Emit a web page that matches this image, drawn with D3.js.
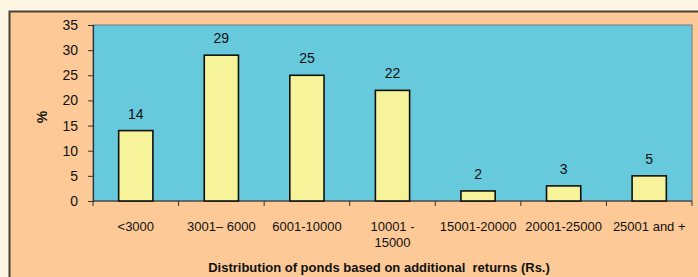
<!DOCTYPE html>
<html lang="en">
<head>
<meta charset="UTF-8">
<title>Distribution of ponds</title>
<script src="https://d3js.org/d3.v7.min.js"></script>
<style>
body { margin: 0; background: #fdf6e2; }
text { font-family: "Liberation Sans", Arial, sans-serif; fill: #111; }
</style>
</head>
<body>
<script>
// data
var categories = ["<3000", "3001\u2013 6000", "6001-10000", "10001 -\n15000", "15001-20000", "20001-25000", "25001 and +"];
var percents = [14, 29, 25, 22, 2, 3, 5];
var yTicks = [0, 5, 10, 15, 20, 25, 30, 35];

var width = 698, height = 277;
var plot = {left: 93, right: 692, top: 25, bottom: 201};

var svg = d3.select("body").append("svg")
  .attr("width", width)
  .attr("height", height);

// outer peach panel
svg.append("rect")
  .attr("x", 9).attr("y", 11.5)
  .attr("width", width - 9).attr("height", height - 11.5)
  .style("fill", "#fdc997");
svg.append("path")
  .attr("d", "M9.5," + height + "V11.5H" + width)
  .style("fill", "none")
  .style("stroke", "#4a4038")
  .style("stroke-width", 2);

// plot area
svg.append("rect")
  .attr("x", plot.left).attr("y", plot.top)
  .attr("width", plot.right - plot.left).attr("height", plot.bottom - plot.top)
  .style("fill", "#67c9dc")
  .style("stroke", "#7a8a8e")
  .style("stroke-width", 1.2);

var x = d3.scaleBand()
  .domain(categories)
  .range([plot.left, plot.right])
  .paddingInner(0.6)
  .paddingOuter(0.3);

var y = d3.scaleLinear()
  .domain([0, 35])
  .range([plot.bottom, plot.top]);

// y axis
var yAxis = svg.append("g")
  .attr("transform", "translate(" + plot.left + ",0)")
  .call(d3.axisLeft(y).tickValues(yTicks).tickSize(5).tickPadding(10));
yAxis.select(".domain").style("stroke", "#333").style("stroke-width", 1.2);
yAxis.selectAll(".tick line").style("stroke", "#333");
yAxis.selectAll("text")
  .style("font-size", "14px")
  .style("font-family", "'Liberation Sans', Arial, sans-serif")
  .style("fill", "#111");

// x axis: ticks on category boundaries
var step = x.step();
var boundaries = d3.range(categories.length + 1).map(function(i) { return plot.left + i * step; });
svg.append("line")
  .attr("x1", plot.left).attr("x2", plot.right)
  .attr("y1", plot.bottom).attr("y2", plot.bottom)
  .style("stroke", "#333").style("stroke-width", 1.2);
svg.selectAll(".xtick")
  .data(boundaries)
  .enter().append("line")
  .attr("class", "xtick")
  .attr("x1", function(d) { return d; }).attr("x2", function(d) { return d; })
  .attr("y1", plot.bottom).attr("y2", plot.bottom + 5)
  .style("stroke", "#333");

var xLabels = svg.selectAll(".xlabel")
  .data(categories)
  .enter().append("text")
  .attr("class", "xlabel")
  .attr("text-anchor", "middle")
  .style("font-size", "13px")
  .attr("transform", function(d) { return "translate(" + (x(d) + x.bandwidth() / 2) + ",230.5)"; });
xLabels.selectAll("tspan")
  .data(function(d) { return d.split("\n"); })
  .enter().append("tspan")
  .attr("x", 0)
  .attr("dy", function(d, i) { return i ? 16 : 0; })
  .text(function(d) { return d; });

// bars
svg.selectAll(".bar")
  .data(percents)
  .enter().append("rect")
  .attr("class", "bar")
  .attr("x", function(d, i) { return x(categories[i]); })
  .attr("y", function(d) { return y(d); })
  .attr("width", x.bandwidth())
  .attr("height", function(d) { return y(0) - y(d); })
  .style("fill", "#f6f39b")
  .style("stroke", "#111")
  .style("stroke-width", 1.6);

svg.selectAll(".val")
  .data(percents)
  .enter().append("text")
  .attr("class", "val")
  .attr("text-anchor", "middle")
  .attr("x", function(d, i) { return x(categories[i]) + x.bandwidth() / 2; })
  .attr("y", function(d) { return y(d) - 12; })
  .style("font-size", "14px")
  .text(function(d) { return d; });

// axis titles
svg.append("text")
  .attr("transform", "translate(47,117) rotate(-90)")
  .attr("text-anchor", "middle")
  .style("font-size", "14px")
  .style("font-weight", "bold")
  .text("%");

svg.append("text")
  .attr("x", 379).attr("y", 271.5)
  .attr("text-anchor", "middle")
  .style("font-size", "13px")
  .style("font-weight", "bold")
  .attr("xml:space", "preserve")
  .text("Distribution of ponds based on additional  returns (Rs.)");
</script>
</body>
</html>
